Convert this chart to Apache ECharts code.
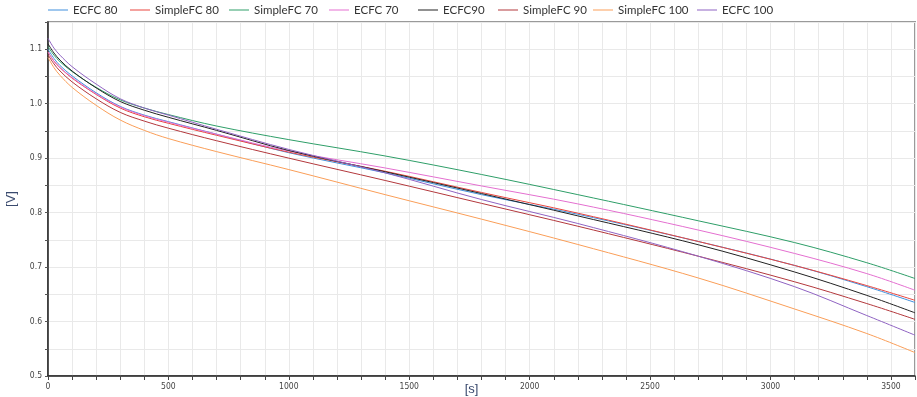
<!DOCTYPE html>
<html>
<head>
<meta charset="utf-8">
<script src="https://cdn.jsdelivr.net/npm/echarts@6/dist/echarts.min.js"></script>
<style>
html,body{margin:0;padding:0;background:#fff;}
#c{width:917px;height:397px;}
</style>
</head>
<body>
<div id="c"></div>
<script>
// Time axis [s]
const times = [0, 25, 50, 100, 200, 300, 400, 500, 700, 1000, 1400, 1800, 2200, 2700, 3100, 3400, 3600];
// Voltage [V]
const ecfc80      = [1.100, 1.083, 1.070, 1.051, 1.020, 0.995, 0.979, 0.967, 0.944, 0.910, 0.873, 0.833, 0.797, 0.747, 0.703, 0.664, 0.635];
const simpleFC80  = [1.095, 1.078, 1.066, 1.047, 1.017, 0.992, 0.976, 0.964, 0.942, 0.911, 0.876, 0.837, 0.799, 0.747, 0.703, 0.666, 0.639];
const simpleFC70  = [1.105, 1.089, 1.077, 1.059, 1.030, 1.007, 0.992, 0.980, 0.959, 0.934, 0.904, 0.870, 0.833, 0.785, 0.745, 0.708, 0.679];
const ecfc70      = [1.095, 1.078, 1.066, 1.048, 1.018, 0.994, 0.978, 0.966, 0.944, 0.913, 0.882, 0.849, 0.816, 0.768, 0.725, 0.688, 0.6575];
const ecfc90      = [1.110, 1.093, 1.080, 1.060, 1.029, 1.004, 0.988, 0.975, 0.951, 0.914, 0.875, 0.835, 0.794, 0.741, 0.691, 0.648, 0.616];
const simpleFC90  = [1.090, 1.073, 1.060, 1.040, 1.009, 0.984, 0.968, 0.955, 0.932, 0.900, 0.859, 0.817, 0.775, 0.720, 0.673, 0.633, 0.604];
const simpleFC100 = [1.085, 1.066, 1.052, 1.030, 0.997, 0.970, 0.951, 0.936, 0.912, 0.879, 0.833, 0.788, 0.7415, 0.680, 0.623, 0.578, 0.543];
const ecfc100     = [1.120, 1.102, 1.089, 1.068, 1.036, 1.009, 0.992, 0.979, 0.953, 0.916, 0.873, 0.824, 0.780, 0.720, 0.664, 0.611, 0.575];

const seriesNames = ['ECFC 80', 'SimpleFC 80', 'SimpleFC 70', 'ECFC 70', 'ECFC90', 'SimpleFC 90', 'SimpleFC 100', 'ECFC 100'];
const seriesValues = [ecfc80, simpleFC80, simpleFC70, ecfc70, ecfc90, simpleFC90, simpleFC100, ecfc100];
const colors = ['#3f8fdc', '#e8453f', '#2e9e68', '#e46fd0', '#222222', '#b3383c', '#fa9e58', '#8f63c2'];
const legendLeft = [48, 130, 229, 329, 418, 498, 593, 697];

const chart = echarts.init(document.getElementById('c'), null, {renderer: 'canvas'});

const legends = seriesNames.map((n, i) => ({
  data: [n],
  left: legendLeft[i],
  top: 3,
  padding: 0,
  icon: 'rect',
  itemWidth: 20,
  itemHeight: 1,
  textStyle: {fontFamily: 'Lato, "Liberation Sans", sans-serif', fontSize: 11.5, color: '#333', lineHeight: 14}
}));

const series = seriesNames.map((n, i) => ({
  name: n,
  type: 'line',
  data: times.map((t, k) => [t, seriesValues[i][k]]),
  symbol: 'none',
  smooth: 0.35,
  lineStyle: {width: 1, color: colors[i]},
  itemStyle: {color: colors[i]},
  emphasis: {disabled: true}
}));

const gridLine = {show: true, lineStyle: {color: '#e9e9e9', width: 1}};
const tickFont = '"Liberation Sans Narrow", "DejaVu Sans Condensed", sans-serif';

chart.setOption({
  animation: false,
  color: colors,
  legend: legends,
  grid: {left: 48, right: 2, top: 22, bottom: 21, containLabel: false, outerBoundsMode: 'none',
         show: true, borderColor: '#9a9a9a', borderWidth: 2, backgroundColor: 'transparent'},
  xAxis: {
    type: 'value', min: 0, max: 3600, interval: 100,
    name: '[s]', nameLocation: 'middle', nameGap: 7, nameMoveOverlap: false,
    nameTextStyle: {fontSize: 13, color: '#3a4a6e', fontFamily: '"Liberation Sans", sans-serif', padding: [0, 20, 0, 0]},
    axisLine: {show: true, onZero: false, lineStyle: {color: '#222', width: 1.5}},
    axisTick: {show: true, inside: false, length: 4, lineStyle: {color: '#444'}},
    axisLabel: {
      interval: 0, fontSize: 8.5, color: '#444', margin: 6, fontFamily: tickFont,
      formatter: v => (v % 500 === 0 && v < 3600) ? String(v) : ''
    },
    splitLine: gridLine
  },
  yAxis: {
    type: 'value', min: 0.5, max: 1.15, interval: 0.05,
    name: '[V]', nameLocation: 'middle', nameGap: 30, nameRotate: 90, nameMoveOverlap: false,
    nameTextStyle: {fontSize: 13, color: '#3a4a6e', fontFamily: '"Liberation Sans", sans-serif'},
    axisLine: {show: true, onZero: false, lineStyle: {color: '#222', width: 1.5}},
    axisTick: {show: true, length: 3, lineStyle: {color: '#555'}},
    axisLabel: {
      interval: 0, fontSize: 8.5, color: '#444', margin: 6, fontFamily: tickFont,
      formatter: v => {
        const r = Math.round(v * 10);
        return (Math.abs(v * 10 - r) < 1e-6 && v < 1.14) ? (r / 10).toFixed(1) : '';
      }
    },
    splitLine: gridLine
  },
  series: series
});
</script>
</body>
</html>
